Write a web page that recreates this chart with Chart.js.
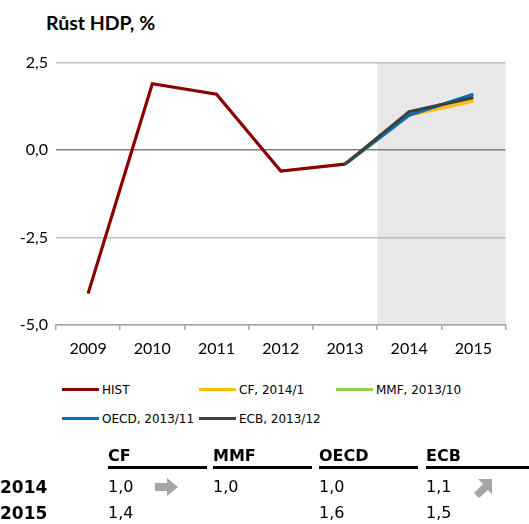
<!DOCTYPE html>
<html>
<head>
<meta charset="utf-8">
<script src="https://cdn.jsdelivr.net/npm/chart.js@4"></script>
<style>
  body { margin: 0; background: #fff; width: 529px; height: 524px; position: relative; overflow: hidden; }
  #title { position: absolute; left: 46px; top: 11.5px; font: bold 19.5px Lato, sans-serif; line-height: 22px; color: #000; }
  #wrap { position: absolute; left: 0; top: 40px; width: 529px; height: 340px; }
  #legend { position: absolute; left: 0; top: 380px; width: 529px; font: 12px "DejaVu Sans", sans-serif; color: #000; }
  .item { position: absolute; height: 16px; line-height: 16px; white-space: nowrap; }
  .item span.line { display: inline-block; width: 37px; height: 3px; vertical-align: middle; margin-right: 3px; position: relative; top: -1px; }
  #table { position: absolute; left: 0; top: 0; width: 529px; height: 524px; font-family: "DejaVu Sans", sans-serif; pointer-events: none; }
  .hdr { position: absolute; top: 446px; font-weight: bold; font-size: 16px; line-height: 20px; border-bottom: 3px solid #000; height: 20px; }
  .lbl { position: absolute; left: 0; font-weight: bold; font-size: 17px; line-height: 20px; }
  .val { position: absolute; font-size: 16px; line-height: 20px; }
  .arrow { position: absolute; }
</style>
</head>
<body>
<div id="title">Růst HDP, %</div>
<div id="wrap"><canvas id="chart"></canvas></div>
<div id="legend"></div>
<div id="table"></div>
<script>
// data
const years = ['2009', '2010', '2011', '2012', '2013', '2014', '2015'];
const hist = [-4.1, 1.9, 1.6, -0.6, -0.4, null, null];
const cf = [null, null, null, null, -0.4, 1.0, 1.4];
const mmf = [null, null, null, null, -0.4, 1.0, null];
const oecd = [null, null, null, null, -0.4, 1.0, 1.6];
const ecb = [null, null, null, null, -0.4, 1.1, 1.5];
const seriesNames = ['HIST', 'CF, 2014/1', 'MMF, 2013/10', 'OECD, 2013/11', 'ECB, 2013/12'];
const seriesColors = ['#8b0000', '#ffc000', '#92d050', '#0070c0', '#404040'];
const yTicks = [-5, -2.5, 0, 2.5];
const forecastStart = '2014';

const tableCols = ['CF', 'MMF', 'OECD', 'ECB'];
const tableRows = ['2014', '2015'];
const tableSeries = [cf, mmf, oecd, ecb];
// change vs. previous forecast, 2014 row only
const changes2014 = ['same', null, null, 'up'];

function fmt(v) {
    return v.toFixed(1).replace('.', ',');
}

const allSeries = [hist, cf, mmf, oecd, ecb];
// lower order is drawn on top
const orders = [5, 4, 6, 2, 1];

const shade = {
    id: 'shade',
    beforeDraw(chart) {
        const x = chart.scales.x;
        const area = chart.chartArea;
        const step = x.getPixelForValue(1) - x.getPixelForValue(0);
        const left = x.getPixelForValue(years.indexOf(forecastStart)) - step / 2;
        const c = chart.ctx;
        c.save();
        c.fillStyle = '#e8e8e8';
        c.fillRect(left, area.top, area.right - left, area.bottom - area.top);
        c.restore();
    }
};

function createChart() {
    const ctx = document.getElementById('chart');

    new Chart(ctx, {
        type: 'line',
        data: {
            labels: years,
            datasets: allSeries.map((s, i) => ({
                label: seriesNames[i],
                data: s,
                borderColor: seriesColors[i],
                backgroundColor: seriesColors[i],
                borderWidth: 3.2,
                pointRadius: 0,
                tension: 0,
                spanGaps: false,
                order: orders[i]
            }))
        },
        options: {
            responsive: true,
            maintainAspectRatio: false,
            animation: false,
            layout: { padding: { top: 22.7, right: 23.5, bottom: 0, left: 0 } },
            plugins: {
                legend: { display: false },
                tooltip: { enabled: false }
            },
            scales: {
                x: {
                    offset: true,
                    grid: {
                        offset: true,
                        drawOnChartArea: false,
                        drawTicks: true,
                        tickLength: 5,
                        color: '#a6a6a6',
                        lineWidth: 1.5
                    },
                    border: { display: true, color: '#a6a6a6', width: 1.5 },
                    ticks: {
                        color: '#000',
                        padding: 9,
                        font: { family: 'Lato', size: 16 }
                    },
                    afterFit(scale) { scale.height = 55; }
                },
                y: {
                    min: -5,
                    max: 2.5,
                    afterBuildTicks(scale) {
                        scale.ticks = yTicks.map(v => ({ value: v }));
                    },
                    grid: {
                        drawTicks: false,
                        color: (c) => c.tick && c.tick.value === 0 ? '#808080' : '#bdbdbd',
                        lineWidth: 1.5
                    },
                    border: { display: false },
                    ticks: {
                        color: '#000',
                        padding: 8,
                        font: { family: 'Lato', size: 16 },
                        callback: (v) => fmt(v)
                    },
                    afterFit(scale) { scale.width = 56; }
                }
            }
        },
        plugins: [shade]
    });
}

function createLegend() {
    const legend = document.getElementById('legend');
    const colLeft = [62, 199, 336];
    const rowTop = [2, 31];
    seriesNames.forEach((name, i) => {
        const item = document.createElement('div');
        item.className = 'item';
        item.style.left = colLeft[i % 3] + 'px';
        item.style.top = rowTop[Math.floor(i / 3)] + 'px';
        item.innerHTML = '<span class="line" style="background:' + seriesColors[i] + '"></span>' + name;
        legend.appendChild(item);
    });
}

function createTable() {
    const table = document.getElementById('table');
    const colLeft = [108, 213, 319, 426];
    const colWidth = [99, 99, 99, 110];
    const rowTop = [477, 503];

    tableCols.forEach((name, i) => {
        const h = document.createElement('div');
        h.className = 'hdr';
        h.style.left = colLeft[i] + 'px';
        h.style.width = colWidth[i] + 'px';
        h.textContent = name;
        table.appendChild(h);
    });

    tableRows.forEach((year, r) => {
        const l = document.createElement('div');
        l.className = 'lbl';
        l.style.top = rowTop[r] + 'px';
        l.textContent = year;
        table.appendChild(l);

        const idx = years.indexOf(year);
        tableSeries.forEach((s, i) => {
            if (s[idx] == null) return;
            const v = document.createElement('div');
            v.className = 'val';
            v.style.left = colLeft[i] + 'px';
            v.style.top = rowTop[r] + 'px';
            v.textContent = fmt(s[idx]);
            table.appendChild(v);
        });
    });

    changes2014.forEach((c, i) => {
        if (!c) return;
        const a = document.createElement('div');
        a.className = 'arrow';
        a.style.left = (colLeft[i] + 47) + 'px';
        a.style.top = (rowTop[0] + 1) + 'px';
        let svg;
        if (c === 'same') {
            svg = '<svg width="24" height="18"><polygon points="0,5 12,5 12,0 23,9 12,18 12,13 0,13" fill="#a6a6a6"/></svg>';
        } else {
            svg = '<svg width="22" height="20"><polygon points="19,1 19,16 15,12 6,20 1,15 10,6 5,1" fill="#a6a6a6"/></svg>';
        }
        a.innerHTML = svg;
        table.appendChild(a);
    });
}

createChart();
createLegend();
createTable();
</script>
</body>
</html>
